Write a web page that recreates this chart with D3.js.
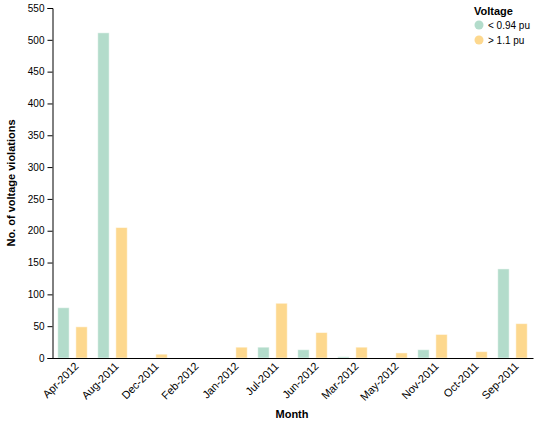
<!DOCTYPE html>
<html><head><meta charset="utf-8">
<script src="https://cdn.jsdelivr.net/npm/d3@7"></script>
<style>body{margin:0;background:#fff;font-family:"Liberation Sans",Arial,sans-serif;}</style>
</head><body><svg id="c" width="539" height="426"></svg>
<script>
const months = ["Apr-2012","Aug-2011","Dec-2011","Feb-2012","Jan-2012","Jul-2011","Jun-2012","Mar-2012","May-2012","Nov-2011","Oct-2011","Sep-2011"];
const seriesNames = ["< 0.94 pu", "> 1.1 pu"];
const under = [79, 511, 0, 0, 0, 17, 13, 2, 0, 13, 0, 140];
const over = [49, 205, 6, 0, 17, 86, 40, 17, 8, 37, 10, 54];
const yTicks = [0,50,100,150,200,250,300,350,400,450,500,550];
const colors = ["#b3dccb", "#fdd88e"];

const svg = d3.select("#c");
const L = 52.5, R = 532.5, T = 8, B = 358;
const x = d3.scaleBand().domain(months).range([L, R]).paddingInner(0.1).paddingOuter(0.05);
const xo = d3.scaleBand().domain(seriesNames).range([0, x.bandwidth()]).paddingInner(0.37).paddingOuter(0.18);
const y = d3.scaleLinear().domain([0, 550]).range([B, T]);
const vals = [under, over];

const g = svg.append("g");
months.forEach((m, i) => {
  seriesNames.forEach((s, j) => {
    const v = vals[j][i];
    if (v <= 0) return;
    g.append("rect")
      .attr("x", x(m) + xo(s))
      .attr("width", xo.bandwidth())
      .attr("y", y(v))
      .attr("height", y(0) - y(v))
      .attr("fill", colors[j])
      .attr("stroke", "#ffffff").attr("stroke-opacity", 0.5).attr("stroke-width", 1);
  });
});

// y axis
const ya = svg.append("g").attr("transform", `translate(${L},0)`)
  .call(d3.axisLeft(y).tickValues(yTicks).tickSize(5).tickPadding(3));
ya.select(".domain").attr("stroke", "#000");
ya.selectAll("text").attr("font-size", 10).attr("font-family", "Liberation Sans, Arial, sans-serif").attr("fill", "#000");

// x axis
const xa = svg.append("g").attr("transform", `translate(0,${B})`)
  .call(d3.axisBottom(x).tickSize(0).tickSizeOuter(0));
xa.select(".domain").attr("stroke", "#000").attr("d", `M${L},0.5H${R+1}`);
xa.selectAll(".tick line").remove();
xa.selectAll("text").attr("font-size", 11).attr("font-family", "Liberation Sans, Arial, sans-serif").attr("fill", "#000")
  .attr("text-anchor", "end").attr("y", 0).attr("dy", "0.75em")
  .attr("transform", "translate(1,3) rotate(-45)");

// titles
svg.append("text").attr("x", 292).attr("y", 418).attr("text-anchor", "middle")
  .attr("font-size", 11).attr("font-weight", "bold").text("Month");
svg.append("text").attr("transform", `translate(15,${(T+B)/2}) rotate(-90)`).attr("text-anchor", "middle")
  .attr("font-size", 11).attr("font-weight", "bold").text("No. of voltage violations");

// legend
const lg = svg.append("g").attr("transform", "translate(474,0)");
lg.append("text").attr("x", 0).attr("y", 15).attr("font-size", 11).attr("font-weight", "bold").text("Voltage");
seriesNames.forEach((s, j) => {
  lg.append("circle").attr("cx", 5).attr("cy", 25 + j*15).attr("r", 4.5).attr("fill", colors[j]);
  lg.append("text").attr("x", 14).attr("y", 28.5 + j*15).attr("font-size", 10).text(s);
});
</script></body></html>
